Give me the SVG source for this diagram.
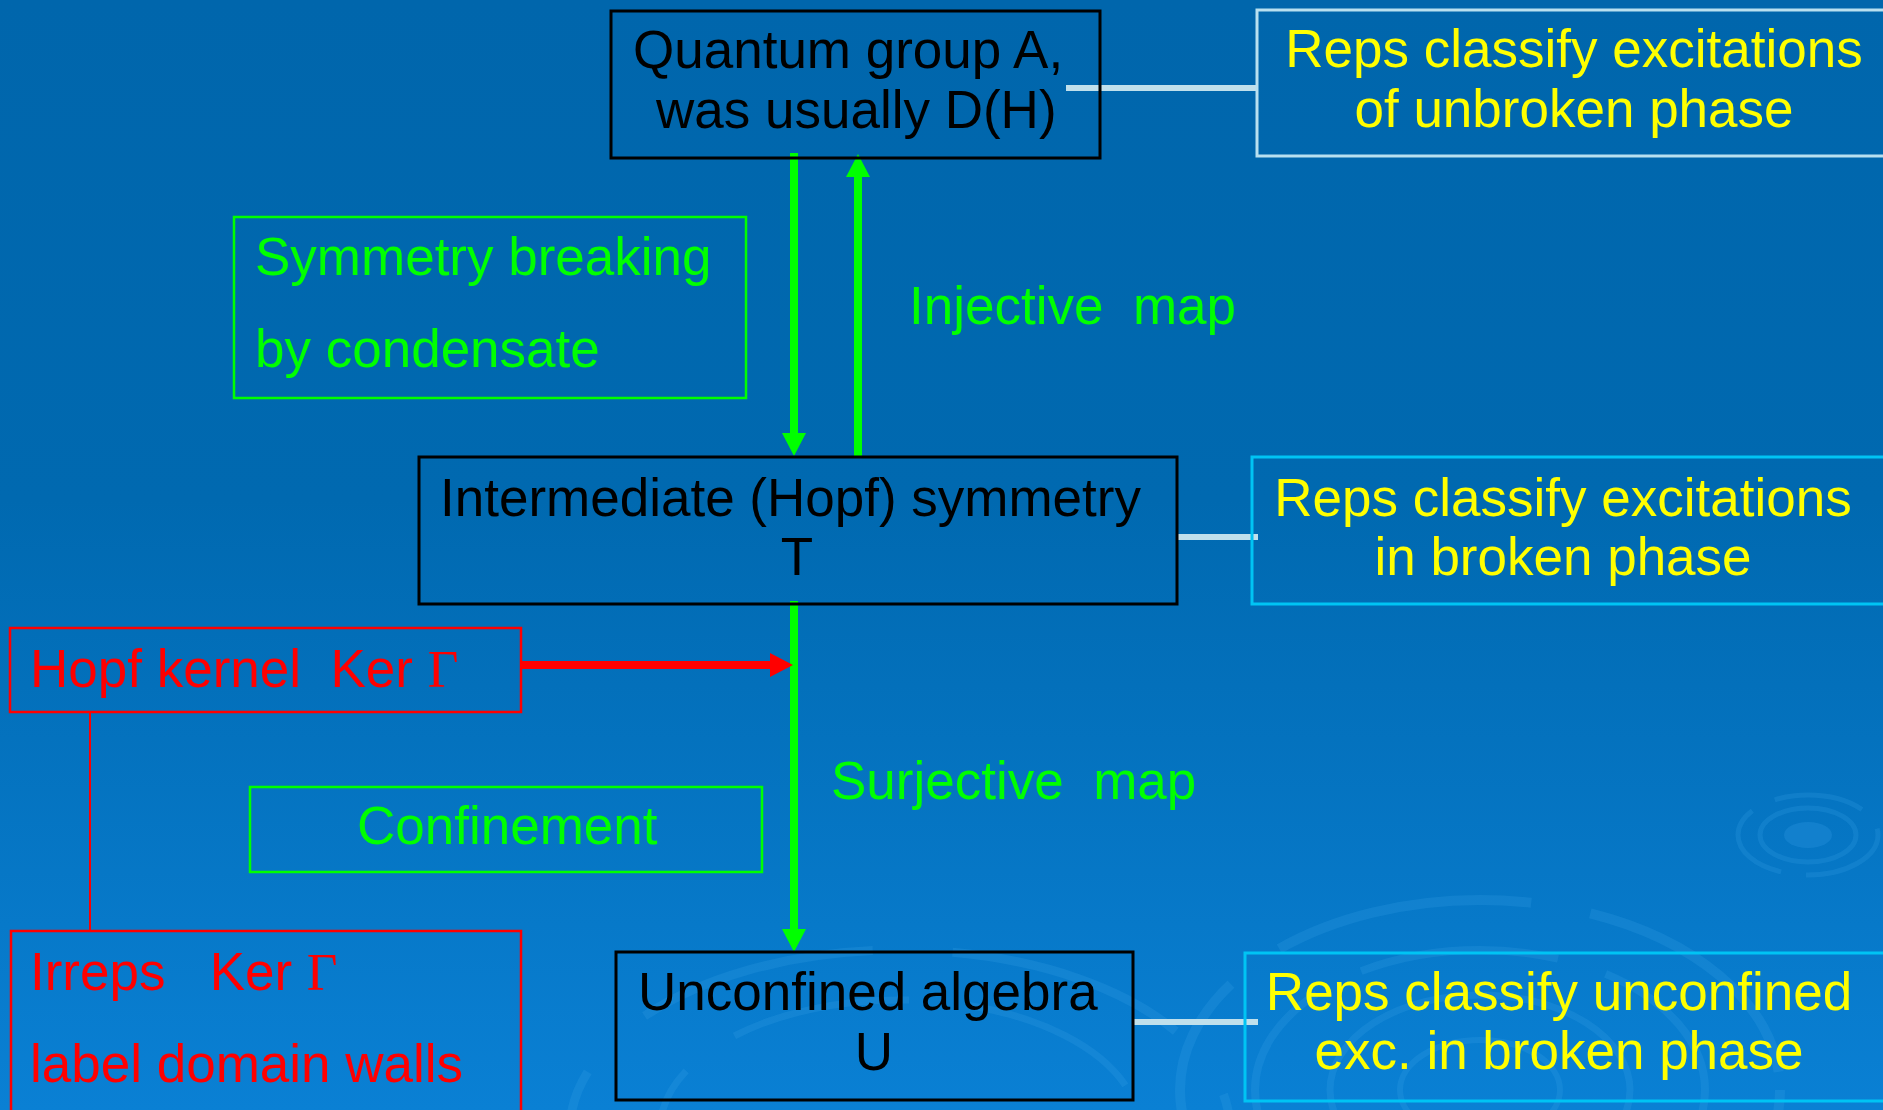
<svg xmlns="http://www.w3.org/2000/svg" width="1883" height="1110" viewBox="0 0 1883 1110">
<defs>
<linearGradient id="bg" x1="0" y1="0" x2="0" y2="1">
<stop offset="0" stop-color="#0066ac"/>
<stop offset="0.45" stop-color="#0069b0"/>
<stop offset="1" stop-color="#0a80d4"/>
</linearGradient>
<marker id="ahG" markerUnits="userSpaceOnUse" markerWidth="23" markerHeight="24" viewBox="0 0 23 24" refX="0" refY="12" orient="auto">
<path d="M0,0 L23,12 L0,24 z" fill="#00ff00"/>
</marker>
<marker id="ahR" markerUnits="userSpaceOnUse" markerWidth="23" markerHeight="24" viewBox="0 0 23 24" refX="0" refY="12" orient="auto">
<path d="M0,0 L23,12 L0,24 z" fill="#ff0000"/>
</marker>
</defs>
<style>
text{font-family:"Liberation Sans",Arial,sans-serif;font-size:53px}
.g{font-family:"Liberation Serif","Times New Roman",serif}
.blk{fill:#000}
.yel{fill:#ffff00}
.grn{fill:#00ff00}
.red{fill:#ff0000}
.nb{fill:none;stroke:#000;stroke-width:3}
.nw{fill:none;stroke:#b8e0f0;stroke-width:3}
.nc{fill:none;stroke:#00c4f4;stroke-width:3}
.ng{fill:none;stroke:#00ff00;stroke-width:2.5}
.nr{fill:none;stroke:#ff0000;stroke-width:2.5}
.ripple{fill:none;stroke:#3aa2ea;stroke-opacity:0.22}
.link{stroke:#c0e0ec;stroke-width:6;fill:none}
.ga{stroke:#00ff00;stroke-width:8;fill:none}
.ra{stroke:#ff0000;stroke-width:8;fill:none}
</style>
<rect x="0" y="0" width="1883" height="1110" fill="url(#bg)"/>
<g id="ripples">
<ellipse class="ripple" cx="1480" cy="1090" rx="300" ry="190" stroke-width="10" stroke-dasharray="260 60"/>
<ellipse class="ripple" cx="1480" cy="1090" rx="225" ry="140" stroke-width="8" stroke-dasharray="200 50"/>
<ellipse class="ripple" cx="1480" cy="1090" rx="150" ry="95" stroke-width="7"/>
<ellipse class="ripple" cx="1480" cy="1090" rx="80" ry="50" stroke-width="6"/>
<ellipse class="ripple" cx="900" cy="1130" rx="330" ry="180" stroke-width="9" stroke-dasharray="240 80"/>
<ellipse class="ripple" cx="900" cy="1130" rx="240" ry="130" stroke-width="7" stroke-dasharray="180 60"/>
<ellipse class="ripple" cx="1808" cy="835" rx="70" ry="40" stroke-width="5" stroke-dasharray="90 25"/>
<ellipse class="ripple" cx="1808" cy="835" rx="48" ry="27" stroke-width="5"/>
<ellipse cx="1808" cy="835" rx="24" ry="13" fill="#2a95e0" fill-opacity="0.35"/>
</g>
<g id="connectors">
<line class="link" x1="1066" y1="88" x2="1258" y2="88"/>
<line class="link" x1="1177" y1="537" x2="1258" y2="537"/>
<line class="link" x1="1132" y1="1022" x2="1258" y2="1022"/>
<path class="ga" d="M794,153 V433" marker-end="url(#ahG)"/>
<path class="ga" d="M858,457 V177" marker-end="url(#ahG)"/>
<path class="ga" d="M794,601 V929" marker-end="url(#ahG)"/>
<path class="ra" d="M521,665 H770" marker-end="url(#ahR)"/>
<line x1="90" y1="711" x2="90" y2="932" stroke="#ff0000" stroke-width="2"/>
<text class="grn" x="909" y="324" xml:space="preserve">Injective  map</text>
<text class="grn" x="831" y="799" xml:space="preserve">Surjective  map</text>
</g>
<g id="quantum-group">
<rect class="nb" x="611" y="11" width="489" height="147"/>
<text class="blk" x="633" y="68">Quantum group A,</text>
<text class="blk" x="656" y="128">was usually D(H)</text>
</g>
<g id="reps-unbroken">
<rect class="nw" x="1257" y="10" width="640" height="146"/>
<text class="yel" x="1574" y="67" text-anchor="middle">Reps classify excitations</text>
<text class="yel" x="1574" y="127" text-anchor="middle">of unbroken phase</text>
</g>
<g id="symmetry-breaking">
<rect class="ng" x="234" y="217" width="512" height="181"/>
<text class="grn" x="255" y="275">Symmetry breaking</text>
<text class="grn" x="255" y="367">by condensate</text>
</g>
<g id="intermediate">
<rect class="nb" x="419" y="457" width="758" height="147"/>
<text class="blk" x="440" y="516">Intermediate (Hopf) symmetry</text>
<text class="blk" x="797" y="575" text-anchor="middle">T</text>
</g>
<g id="reps-broken">
<rect class="nc" x="1252" y="457" width="645" height="147"/>
<text class="yel" x="1563" y="516" text-anchor="middle">Reps classify excitations</text>
<text class="yel" x="1563" y="575" text-anchor="middle">in broken phase</text>
</g>
<g id="hopf-kernel">
<rect class="nr" x="10" y="628" width="511" height="84"/>
<text class="red" x="30" y="687" xml:space="preserve">Hopf kernel  Ker <tspan class="g">Γ</tspan></text>
</g>
<g id="confinement">
<rect class="ng" x="250" y="787" width="512" height="85"/>
<text class="grn" x="357" y="844">Confinement</text>
</g>
<g id="irreps">
<rect class="nr" x="11" y="931" width="510" height="200"/>
<text class="red" x="30" y="990" xml:space="preserve">Irreps   Ker <tspan class="g">Γ</tspan></text>
<text class="red" x="30" y="1082">label domain walls</text>
</g>
<g id="unconfined">
<rect class="nb" x="616" y="952" width="517" height="148"/>
<text class="blk" x="638" y="1010">Unconfined algebra</text>
<text class="blk" x="874" y="1070" text-anchor="middle">U</text>
</g>
<g id="reps-unconfined">
<rect class="nc" x="1245" y="953" width="652" height="148"/>
<text class="yel" x="1559" y="1010" text-anchor="middle">Reps classify unconfined</text>
<text class="yel" x="1559" y="1069" text-anchor="middle">exc. in broken phase</text>
</g>
</svg>
